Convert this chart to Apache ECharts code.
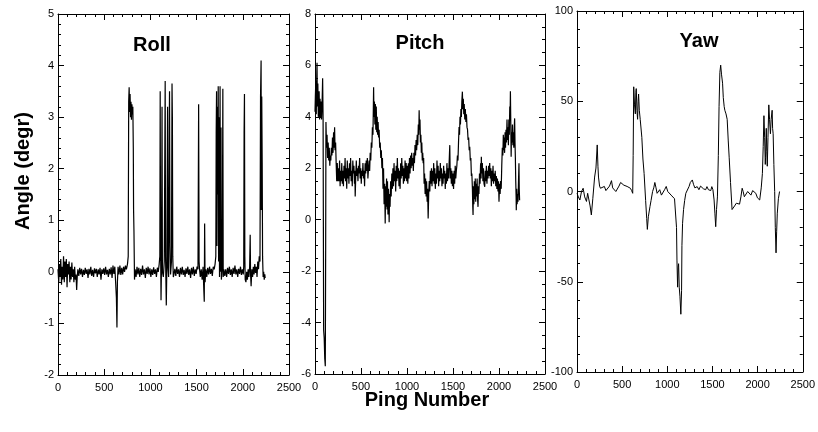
<!DOCTYPE html>
<html>
<head>
<meta charset="utf-8">
<script src="https://cdn.jsdelivr.net/npm/echarts@6/dist/echarts.min.js"></script>
<style>
html,body{margin:0;padding:0;background:#fff;}
#c{width:818px;height:432px;}
</style>
</head>
<body>
<div id="c"></div>
<script>
// Panel titles and axis titles
const panelTitles = ['Roll', 'Pitch', 'Yaw'];
const yTitle = 'Angle (degr)';
const xTitle = 'Ping Number';

// X axis (ping number) ticks
const xTicks = [0, 500, 1000, 1500, 2000, 2500];
// Y axis ticks per panel
const rollTicks = [-2, -1, 0, 1, 2, 3, 4, 5];
const pitchTicks = [-6, -4, -2, 0, 2, 4, 6, 8];
const yawTicks = [-100, -50, 0, 50, 100];

// Roll series: [ping, angle]
const rollData = [
[0,0.05],[8,-0.2],[15,0.15],[22,-0.1],[30,0.25],[38,-0.25],[45,0.1],[52,-0.15],[60,0.3],[68,-0.2],
[75,0.2],[82,-0.1],[90,0.25],[98,-0.3],[105,0.15],[112,-0.05],[120,0.2],[128,-0.2],[135,0.1],[142,-0.15],
[150,0.18],[158,-0.1],[165,0.05],[172,-0.2],[180,0.1],[188,-0.15],[195,-0.05],[202,-0.35],[208,-0.1],[215,0.05],
[225,-0.08],[235,0.08],[245,-0.05],[255,0.06],[265,-0.1],[275,0.04],[285,-0.06],[295,0.08],[305,-0.04],[315,0.05],
[325,-0.12],[335,0.06],[345,-0.05],[355,0.1],[365,-0.08],[375,0.04],[385,-0.1],[395,0.07],[405,-0.03],[415,0.06],
[425,-0.1],[435,0.05],[445,-0.05],[455,0.08],[465,-0.15],[475,0.05],[485,-0.04],[495,0.07],[505,-0.06],[515,0.1],
[525,-0.05],[535,0.04],[545,-0.1],[555,0.06],[565,-0.05],[575,0.09],[585,-0.12],[595,0.12],[605,-0.04],[615,0.1],
[625,-0.25],[632,-0.5],[638,-1.08],[643,-0.2],[650,0.1],[660,-0.05],[670,0.12],[680,-0.06],[690,0.08],[700,-0.05],
[710,0.1],[720,0.0],[730,0.12],[740,0.05],[752,0.15],[760,0.3],[765,3.3],[770,3.58],[775,3.1],[780,3.45],
[785,3.0],[790,3.3],[795,2.95],[800,3.25],[805,3.05],[810,3.2],[815,2.4],[818,1.2],[822,0.8],[828,-0.15],
[835,0.05],[845,-0.1],[855,0.1],[865,-0.05],[875,0.08],[885,-0.1],[895,0.06],[905,-0.06],[915,0.12],[925,-0.05],
[935,0.05],[945,-0.12],[955,0.08],[965,-0.04],[975,0.1],[985,-0.05],[995,0.07],[1005,-0.1],[1015,0.05],[1025,-0.06],
[1035,0.09],[1045,-0.04],[1055,0.05],[1065,-0.1],[1075,0.08],[1085,0.0],[1095,0.15],[1102,0.3],[1106,3.5],[1110,0.6],
[1115,-0.55],[1120,0.1],[1126,3.2],[1130,0.0],[1140,-0.1],[1150,0.2],[1160,3.7],[1164,0.3],[1172,-0.65],[1178,0.1],
[1186,3.2],[1190,0.1],[1197,-0.1],[1204,2.8],[1207,3.5],[1212,0.5],[1218,-0.05],[1228,0.2],[1234,3.65],[1238,3.0],
[1242,0.3],[1248,-0.1],[1255,-0.05],[1265,0.06],[1275,-0.08],[1285,0.1],[1295,-0.04],[1305,0.05],[1315,-0.1],[1325,0.08],
[1335,-0.05],[1345,0.1],[1355,-0.06],[1365,0.04],[1375,-0.1],[1385,0.07],[1395,-0.04],[1405,0.1],[1415,-0.06],[1425,0.05],
[1435,-0.12],[1445,0.08],[1455,-0.05],[1465,0.1],[1475,-0.08],[1485,0.05],[1495,-0.04],[1505,0.1],[1515,0.05],[1522,3.25],
[1527,0.2],[1532,0.05],[1540,-0.1],[1550,0.05],[1560,-0.15],[1570,0.1],[1578,-0.35],[1583,-0.58],[1587,0.94],[1592,-0.2],
[1600,0.05],[1610,-0.1],[1620,0.08],[1630,-0.05],[1640,0.1],[1650,-0.04],[1660,0.06],[1670,-0.08],[1680,0.1],[1690,0.05],
[1700,0.15],[1708,0.3],[1712,2.7],[1716,3.5],[1720,0.5],[1725,3.2],[1729,1.5],[1734,3.6],[1738,0.2],[1744,3.0],
[1748,-0.1],[1754,3.6],[1758,0.0],[1764,2.8],[1768,-0.15],[1778,0.1],[1784,3.55],[1788,-0.1],[1795,0.05],[1805,-0.08],
[1815,0.05],[1825,-0.1],[1835,0.08],[1845,-0.04],[1855,0.1],[1865,-0.06],[1875,0.05],[1885,-0.1],[1895,0.08],[1905,-0.04],
[1915,0.12],[1925,-0.05],[1935,0.05],[1945,-0.1],[1955,0.06],[1965,-0.04],[1975,0.1],[1985,-0.06],[1995,0.05],[2005,-0.05],
[2010,0.1],[2014,2.7],[2018,3.45],[2022,0.3],[2026,-0.15],[2034,-0.2],[2042,0.0],[2050,-0.15],[2058,0.05],[2066,-0.1],
[2074,0.1],[2080,0.72],[2084,-0.05],[2090,-0.28],[2098,0.05],[2106,-0.1],[2114,0.1],[2122,-0.05],[2130,0.15],[2138,-0.02],
[2146,0.1],[2154,-0.1],[2162,0.2],[2170,0.05],[2178,0.3],[2186,0.2],[2192,3.4],[2198,4.1],[2201,1.2],[2205,3.4],
[2210,2.1],[2214,0.3],[2220,-0.1],[2226,0.0],[2232,-0.15],[2238,-0.05],[2242,-0.12]
];

// Pitch series: [ping, angle]
const pitchData = [
[0,4.2],[4,4.8],[9,5.4],[14,4.1],[19,5.6],[22,6.1],[26,4.4],[31,5.3],[36,4.0],[40,4.2],
[45,5.0],[50,3.9],[55,4.7],[60,4.0],[66,4.6],[71,3.9],[76,4.4],[80,5.0],[83,5.5],[88,3.9],
[94,-4.3],[100,-4.6],[106,-5.4],[112,-5.7],[116,-1.0],[119,3.8],[125,2.8],[131,3.3],[137,2.4],[143,3.0],
[149,2.3],[155,2.8],[161,2.1],[166,2.5],[172,2.3],[178,2.8],[184,2.5],[190,3.2],[196,2.6],[202,3.4],
[208,2.8],[213,3.6],[218,2.7],[224,3.0],[230,2.2],[236,1.5],[242,2.2],[249,1.5],[255,2.0],[261,1.5],
[267,2.3],[273,1.3],[279,1.9],[285,1.5],[291,2.2],[297,1.4],[303,1.9],[309,1.3],[315,2.1],[321,1.6],
[327,2.4],[333,1.5],[339,2.0],[345,1.2],[351,2.3],[357,1.6],[363,2.0],[369,1.4],[375,2.2],[381,1.7],
[387,2.4],[393,1.5],[399,1.9],[405,1.3],[411,2.3],[417,1.8],[423,2.1],[429,1.4],[433,1.9],[437,0.9],
[443,1.7],[449,2.3],[455,1.7],[461,2.0],[467,1.5],[473,2.1],[479,1.8],[485,2.4],[491,1.6],[497,2.0],
[503,1.4],[509,1.9],[515,1.7],[521,2.2],[527,1.6],[533,1.9],[539,1.3],[545,2.2],[551,1.8],[557,2.3],
[563,1.9],[569,2.4],[575,1.6],[582,2.0],[588,2.3],[594,1.9],[600,2.6],[606,2.3],[612,3.0],[618,2.8],
[624,3.6],[630,3.3],[634,4.3],[637,5.15],[641,4.0],[646,4.6],[651,3.7],[656,4.5],[661,3.5],[666,4.4],
[671,3.4],[676,4.0],[681,3.3],[686,3.8],[691,3.2],[697,3.5],[703,2.8],[709,3.0],[715,2.4],[721,2.7],
[727,2.0],[733,2.4],[739,1.2],[745,2.0],[751,0.6],[757,1.4],[763,-0.15],[768,1.3],[773,0.5],[778,1.6],
[783,0.4],[788,1.5],[793,0.2],[798,1.2],[803,0.6],[806,-0.1],[811,1.0],[816,0.5],[822,1.5],[828,0.9],
[835,1.8],[841,1.2],[847,2.0],[853,1.3],[859,2.2],[865,1.5],[871,1.9],[877,1.1],[883,2.1],[889,1.5],
[895,2.4],[901,1.6],[907,2.0],[913,1.3],[919,1.9],[925,1.2],[931,2.2],[937,1.6],[943,2.4],[949,1.7],
[955,2.1],[961,1.4],[967,2.0],[973,1.5],[979,2.3],[985,1.6],[991,2.2],[997,1.5],[1003,2.1],[1009,1.4],
[1015,2.2],[1021,1.6],[1027,2.4],[1033,1.8],[1039,2.5],[1045,2.0],[1051,2.6],[1057,2.1],[1063,2.4],[1069,1.9],
[1075,2.6],[1081,2.2],[1087,2.9],[1093,2.5],[1099,3.1],[1105,2.7],[1111,3.3],[1117,2.9],[1123,3.7],[1128,3.3],
[1132,4.26],[1136,3.5],[1141,3.9],[1146,3.0],[1151,3.3],[1156,2.6],[1161,3.0],[1166,2.3],[1171,2.6],[1176,2.2],
[1181,2.4],[1186,1.4],[1191,1.8],[1197,1.0],[1202,1.6],[1208,0.9],[1213,1.5],[1219,0.7],[1224,1.2],[1230,0.05],
[1236,1.0],[1242,1.5],[1248,1.1],[1254,1.9],[1260,1.4],[1266,2.0],[1272,1.3],[1278,1.9],[1284,1.5],[1290,2.2],
[1296,1.4],[1302,2.0],[1308,1.2],[1314,1.8],[1320,1.4],[1326,2.3],[1332,1.6],[1338,2.1],[1344,1.3],[1350,1.9],
[1356,1.5],[1362,2.2],[1368,1.6],[1374,2.0],[1380,1.3],[1386,1.8],[1392,1.4],[1398,2.1],[1404,1.6],[1410,1.9],
[1416,1.2],[1422,1.8],[1428,1.4],[1434,2.2],[1440,1.5],[1446,2.0],[1452,1.6],[1458,2.2],[1465,2.9],[1470,1.6],
[1476,2.0],[1482,1.4],[1488,1.9],[1494,1.3],[1500,1.8],[1506,1.2],[1512,1.9],[1518,1.4],[1524,2.1],[1530,1.6],
[1536,1.9],[1542,2.1],[1548,2.5],[1554,2.3],[1560,3.0],[1566,3.6],[1571,3.3],[1576,4.0],[1581,3.7],[1586,4.3],
[1591,4.0],[1596,4.6],[1602,4.98],[1607,4.3],[1612,4.7],[1617,4.1],[1622,4.5],[1628,3.9],[1634,4.3],[1640,3.8],
[1646,4.1],[1652,3.6],[1658,3.5],[1664,3.1],[1670,3.2],[1676,2.7],[1682,2.84],[1688,2.3],[1694,2.4],[1700,1.7],
[1705,1.8],[1711,1.2],[1715,0.5],[1718,0.18],[1722,1.3],[1727,0.6],[1732,1.5],[1737,0.8],[1742,1.6],[1747,0.7],
[1752,1.4],[1757,0.9],[1762,1.6],[1767,0.8],[1772,0.5],[1777,1.3],[1782,1.0],[1788,1.8],[1794,1.4],[1800,2.2],
[1805,1.6],[1808,2.45],[1813,1.8],[1819,2.2],[1825,1.5],[1831,2.0],[1837,1.4],[1845,1.28],[1851,1.9],[1857,1.5],
[1863,2.1],[1869,1.4],[1875,1.9],[1881,1.6],[1887,2.1],[1893,1.7],[1899,2.2],[1905,1.6],[1911,2.0],[1917,1.3],
[1923,1.9],[1929,1.5],[1935,2.1],[1941,1.4],[1947,1.8],[1953,1.5],[1959,1.9],[1965,1.3],[1971,1.7],[1977,1.2],
[1983,1.6],[1989,1.1],[1995,1.5],[2000,0.7],[2006,1.4],[2012,1.0],[2018,1.5],[2024,1.2],[2030,2.1],[2036,2.8],
[2042,2.5],[2047,3.3],[2051,2.7],[2056,3.2],[2061,2.6],[2066,3.4],[2071,2.8],[2076,3.5],[2081,3.0],[2087,3.9],
[2092,3.1],[2097,3.6],[2102,2.9],[2107,3.9],[2112,3.3],[2117,4.4],[2121,4.1],[2124,5.0],[2128,3.8],[2132,2.45],
[2136,3.4],[2141,3.0],[2146,3.7],[2151,2.9],[2156,3.4],[2161,2.8],[2166,3.6],[2170,3.94],[2174,3.0],[2178,2.4],
[2182,1.5],[2186,0.9],[2188,0.37],[2192,1.2],[2197,0.6],[2202,1.0],[2207,0.7],[2212,1.5],[2217,2.2],[2220,1.2],
[2224,0.76]
];

// Yaw series: [ping, angle]
const yawData = [
[0,-1],[15,-3],[32,-4.7],[50,0],[68,1.8],[85,-3],[105,-5.5],[118,-1],[130,0],[145,-8],
[159,-13],[175,-4],[195,8],[210,13],[224,25.8],[232,14],[238,8],[250,3],[260,1.8],[280,2],
[303,2.8],[320,0.5],[339,1],[360,3],[382,6],[395,2],[411,1.8],[430,0],[447,1],[465,3],
[483,5],[500,4],[519,3.5],[537,4],[555,2.8],[575,2],[591,1.8],[605,0.5],[617,-1],[622,20],
[628,58],[637,48],[646,43],[652,55],[656,57],[664,45],[671,40],[677,50],[682,54],[690,45],
[700,40],[718,30],[730,18],[743,10],[760,-5],[772,-15],[779,-21],[790,-14],[808,-8.4],[820,-5],
[837,0],[850,2],[862,5],[875,2],[887,-1],[900,0],[916,1],[935,-2],[952,-1],[970,1],
[988,2.8],[1005,0],[1024,-1],[1042,-2],[1060,-3],[1080,-4],[1096,-4.7],[1102,-20],[1107,-38],[1114,-53],
[1120,-42],[1125,-40],[1132,-53],[1140,-58],[1150,-68],[1158,-55],[1162,-30],[1169,-17.6],[1180,-10],[1192,-5],
[1205,-1],[1223,-1],[1241,2.8],[1255,5],[1270,6],[1277,6.4],[1290,4],[1305,2],[1318,1],[1331,2.7],
[1350,1],[1368,3],[1385,4],[1400,1.5],[1412,2],[1425,1],[1439,2.7],[1455,1],[1470,2],[1481,0.5],
[1493,2.7],[1505,1],[1518,-4.7],[1527,-12],[1536,-19.5],[1545,-10],[1555,-3],[1565,20],[1573,47],[1582,66],
[1591,70],[1600,65],[1612,60],[1620,52],[1630,47],[1637,45],[1650,43],[1663,40],[1675,28],[1685,19],
[1700,5],[1717,-10],[1730,-9],[1745,-8],[1764,-6.5],[1780,-6],[1800,-7],[1815,-3],[1829,1.8],[1840,0],
[1853,-2.9],[1870,-2],[1890,0],[1905,-1],[1926,-2],[1945,0.5],[1962,1.5],[1980,-1],[1998,-3.5],[2012,-4],
[2023,-4.7],[2040,2],[2053,10],[2062,25],[2070,42],[2078,30],[2085,15],[2088,19],[2096,35],[2102,22],
[2107,14],[2115,30],[2124,48],[2132,40],[2142,32],[2150,40],[2161,45],[2166,35],[2172,32],[2180,15],
[2189,0],[2196,-20],[2204,-34],[2211,-22],[2218,-12],[2230,-4],[2243,0]
];

const labelFont = "'Liberation Sans', Arial, sans-serif";
const boldFont = "'Liberation Sans', Arial, sans-serif";

const grids = [
  {left: 58, top: 14, width: 231, height: 361},
  {left: 315, top: 14, width: 230, height: 360},
  {left: 577, top: 11, width: 231, height: 361}
];
const yRanges = [
  {ticks: rollTicks, split: 5},
  {ticks: pitchTicks, split: 4},
  {ticks: yawTicks, split: 5}
];
const seriesData = [rollData, pitchData, yawData];

const xAxes = [], yAxes = [], series = [];
const axisLine = {show: true, onZero: false, lineStyle: {color: '#000', width: 1}};
const tick = {show: true, inside: true, length: 6, lineStyle: {color: '#000', width: 1}};
const minorTick = (n) => ({show: true, splitNumber: n, length: 3, lineStyle: {color: '#000', width: 1}});
const plain = (v) => String(v);

grids.forEach((g, i) => {
  const yt = yRanges[i].ticks;
  const ymin = yt[0], ymax = yt[yt.length - 1], yint = yt[1] - yt[0];
  ['bottom', 'top'].forEach((pos) => {
    xAxes.push({
      type: 'value', gridIndex: i, position: pos,
      min: xTicks[0], max: xTicks[xTicks.length - 1], interval: xTicks[1] - xTicks[0],
      axisLine: axisLine, axisTick: tick, minorTick: minorTick(5),
      splitLine: {show: false},
      axisLabel: {show: pos === 'bottom', color: '#000', fontSize: 11, fontFamily: labelFont, margin: 7, formatter: plain}
    });
  });
  ['left', 'right'].forEach((pos) => {
    yAxes.push({
      type: 'value', gridIndex: i, position: pos,
      min: ymin, max: ymax, interval: yint,
      axisLine: axisLine, axisTick: tick, minorTick: minorTick(yRanges[i].split),
      splitLine: {show: false},
      axisLabel: {show: pos === 'left', color: '#000', fontSize: 11, fontFamily: labelFont, margin: 4, formatter: plain}
    });
  });
  series.push({
    type: 'line', xAxisIndex: i * 2, yAxisIndex: i * 2,
    data: seriesData[i], showSymbol: false, symbol: 'none', silent: true,
    lineStyle: {color: '#000', width: i === 2 ? 1 : 1.2}, animation: false
  });
});

const titlePos = [[152, 45], [420, 43], [699, 41]];
const graphic = panelTitles.map((t, i) => ({
  type: 'text', x: titlePos[i][0], y: titlePos[i][1],
  style: {text: t, font: 'bold 20px ' + boldFont, fill: '#000', align: 'center', verticalAlign: 'middle'}
}));
graphic.push({
  type: 'text', x: 23, y: 171, rotation: Math.PI / 2,
  style: {text: yTitle, font: 'bold 20px ' + boldFont, fill: '#000', align: 'center', verticalAlign: 'middle'}
});
graphic.push({
  type: 'text', x: 427, y: 400,
  style: {text: xTitle, font: 'bold 20px ' + boldFont, fill: '#000', align: 'center', verticalAlign: 'middle'}
});

const chart = echarts.init(document.getElementById('c'), null, {renderer: 'canvas'});
chart.setOption({
  backgroundColor: '#fff',
  animation: false,
  grid: grids,
  xAxis: xAxes,
  yAxis: yAxes,
  series: series,
  graphic: graphic
});
</script>
</body>
</html>
